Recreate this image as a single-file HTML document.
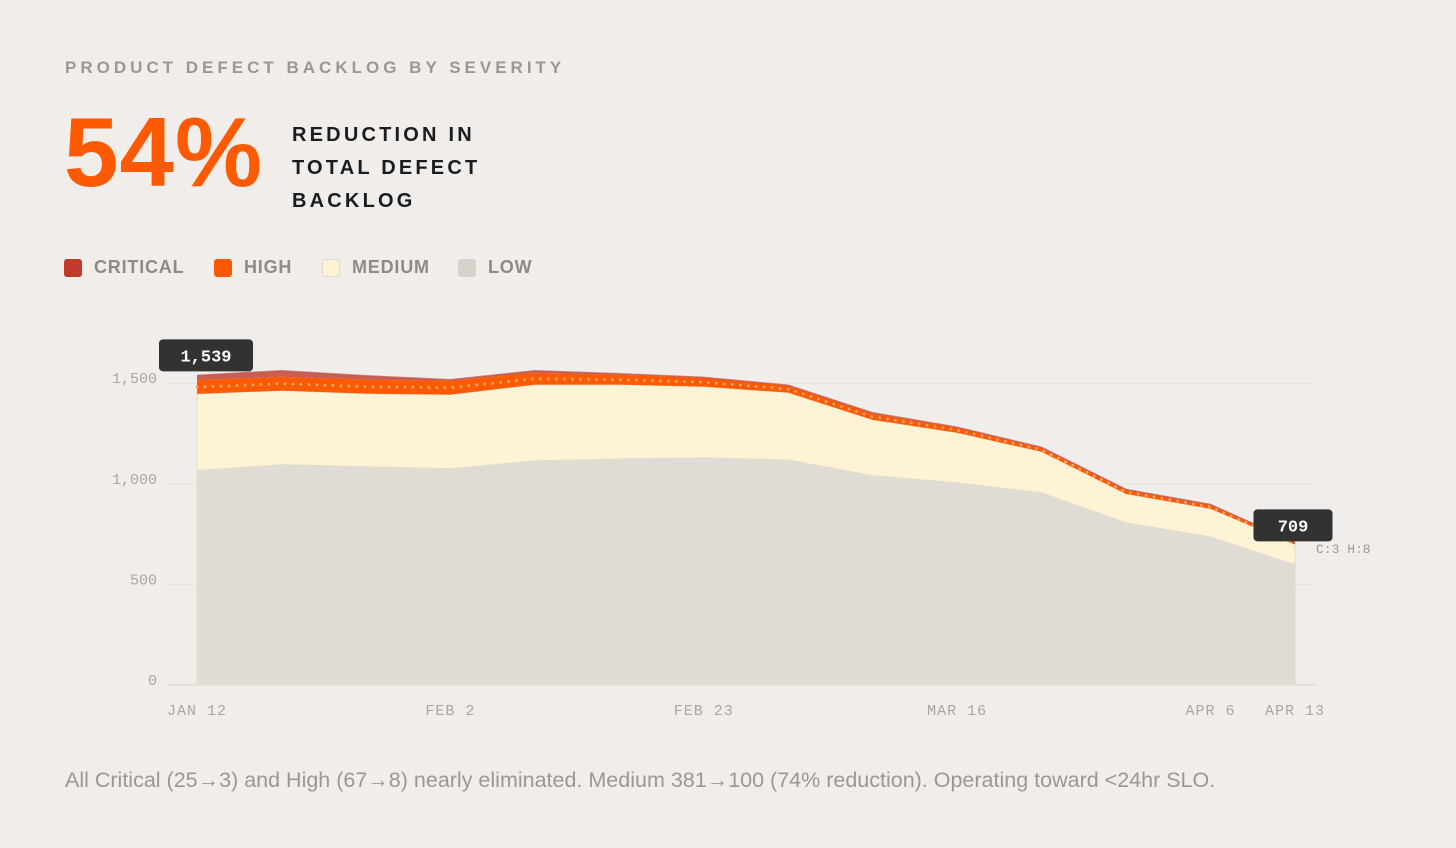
<!DOCTYPE html>
<html><head><meta charset="utf-8">
<style>
html,body{margin:0;padding:0;background:#f0edea;width:1456px;height:848px;overflow:hidden;font-family:"Liberation Sans",sans-serif}
.abs{position:absolute}
#title{left:65px;top:58px;font-size:17px;font-weight:bold;letter-spacing:4px;color:#9a9894}
#big{left:64px;top:97px;font-size:98px;font-weight:bold;color:#ff5a00;letter-spacing:1px;line-height:110px}
#sub{left:292px;top:119px;font-size:20px;font-weight:bold;letter-spacing:3.2px;color:#1c1c1c;line-height:33px}
.leg{top:257px;display:flex;align-items:center;font-size:18px;font-weight:bold;color:#8e8b87;letter-spacing:.8px}
.sw{width:18px;height:18px;border-radius:3px;margin-right:12px;box-sizing:border-box}
#foot{left:65px;top:768px;font-size:21.5px;color:#9a9894;white-space:nowrap}
</style></head><body>
<div class="abs" id="title">PRODUCT DEFECT BACKLOG BY SEVERITY</div>
<div class="abs" id="big">54%</div>
<div class="abs" id="sub">REDUCTION IN<br>TOTAL DEFECT<br>BACKLOG</div>
<div class="abs leg" style="left:64px"><div class="sw" style="background:#c0392b"></div>CRITICAL</div>
<div class="abs leg" style="left:214px"><div class="sw" style="background:#ff5a00"></div>HIGH</div>
<div class="abs leg" style="left:322px"><div class="sw" style="background:#fff3d6;border:1.5px solid #dedad3"></div>MEDIUM</div>
<div class="abs leg" style="left:458px"><div class="sw" style="background:#d6d2cb"></div>LOW</div>
<svg class="abs" style="left:0;top:0" width="1456" height="848" id="chart"></svg>
<div class="abs" id="foot">All Critical (25→3) and High (67→8) nearly eliminated. Medium 381→100 (74% reduction). Operating toward &lt;24hr SLO.</div>
<script>
const dates=["Jan 12","Jan 19","Jan 26","Feb 2","Feb 9","Feb 16","Feb 23","Mar 2","Mar 9","Mar 16","Mar 23","Mar 30","Apr 6","Apr 13"];
const tickIdx=[0,3,6,9,12,13];
const tickLabels=["JAN 12","FEB 2","FEB 23","MAR 16","APR 6","APR 13"];
const yTicks=[0,500,1000,1500];
const yTickLabels=["0","500","1,000","1,500"];
const low=[1066,1095,1085,1075,1114,1124,1129,1119,1040,1005,955,806,736,598];
const medium=[381,368,363,368,379,369,354,334,278,249,204,144,140,100];
const high=[67,69,69,69,59,49,44,35,30,25,20,20,19,8];
const critical=[25,30,20,5,10,5,2,2,5,2,2,2,2,3];
const NS="http://www.w3.org/2000/svg";
const svg=document.getElementById('chart');
const x0=197,x1=1295,y0=685,pxPer=100.6/500;
const X=i=>x0+(x1-x0)*i/(dates.length-1);
const Y=v=>y0-v*pxPer;
function mk(t,a){const e=document.createElementNS(NS,t);for(const k in a)e.setAttribute(k,a[k]);svg.appendChild(e);return e;}
yTicks.forEach((v,i)=>{
  const g=mk('line',{x1:167,x2:1315,y1:Y(v),y2:Y(v),stroke:i==0?'#d8d4ce':'#e6e2dd','stroke-width':1});
  
  
  const t=mk('text',{x:157,y:Y(v)+0,'text-anchor':'end','font-family':'Liberation Mono, monospace','font-size':15,fill:'#aaa7a2'});
  t.textContent=yTickLabels[i];
  
  
});
const layers=[low,medium,high,critical];
const names=['area-low','area-medium','area-high','area-critical'];
const fills=['#dfdcd5','#fff3d6','#ff5a00','#c0392b'];
const op=[1,1,1,0.8];
let base=dates.map(()=>0);
const tops=[];
layers.forEach((arr,li)=>{
  const top=base.map((b,i)=>b+arr[i]);
  let d='M'+top.map((v,i)=>X(i)+','+Y(v)).join(' L');
  for(let i=dates.length-1;i>=0;i--)d+=' L'+X(i)+','+Y(base[i]);
  d+='Z';
  const p=mk('path',{d:d,fill:fills[li],'fill-opacity':op[li],stroke:li<2?'#e4dccb':'none','stroke-width':1});
  
  
  tops.push({top:top,base:base});
  base=top;
});
const hb=tops[2];
const dl=mk('polyline',{points:hb.top.map((v,i)=>X(i)+','+Y((v+hb.base[i])/2)).join(' '),fill:'none',stroke:'#ffa36b','stroke-width':3,'stroke-dasharray':'0 8','stroke-linecap':'round'});


const tl=mk('polyline',{points:tops[3].top.map((v,i)=>X(i)+','+Y(v)).join(' '),fill:'none',stroke:'#c0544a','stroke-width':1.5,'stroke-opacity':0.7});


tickIdx.forEach((ix,i)=>{
  const t=mk('text',{x:X(ix),y:715,'text-anchor':'middle','font-family':'Liberation Mono, monospace','font-size':15,fill:'#aaa7a2','letter-spacing':1});
  t.textContent=tickLabels[i];
  
  
});
const n=dates.length-1;
const tot0=tops[3].top[0], totN=tops[3].top[n];
function callout(cx,y,w,label,name){
  const r=mk('rect',{x:cx-w/2,y:y,width:w,height:32,rx:4,fill:'#333232'});
  
  
  const t=mk('text',{x:cx,y:y+22,'text-anchor':'middle','font-family':'Liberation Mono, monospace','font-size':17,'font-weight':'bold',fill:'#fff'});
  t.textContent=label;
  
  
}
callout(X(0)+9,Y(tot0)-36,94,tot0.toLocaleString('en-US'),'start-callout');
callout(X(n)-2,Y(totN)-33,79,String(totN),'end-callout');
const ch=mk('text',{x:X(n)+21,y:553,'font-family':'Liberation Mono, monospace','font-size':13,fill:'#9a9894'});
ch.textContent='C:'+critical[n]+' H:'+high[n];


</script>
</body></html>
